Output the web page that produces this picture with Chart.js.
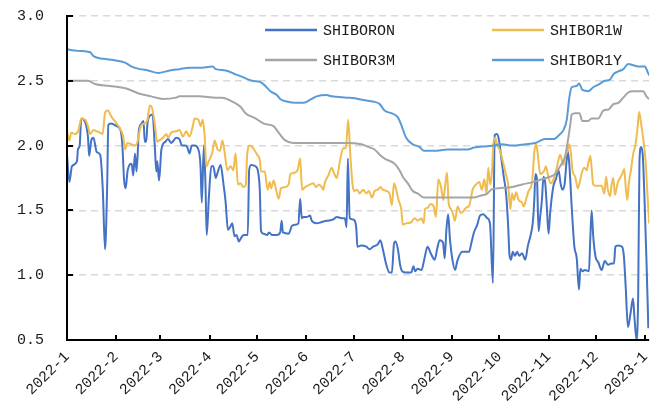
<!DOCTYPE html>
<html>
<head>
<meta charset="utf-8">
<script src="https://cdn.jsdelivr.net/npm/chart.js@4.4.1/dist/chart.umd.min.js"></script>
<style>
  html, body { margin: 0; padding: 0; background: #fff; }
  #wrap { width: 666px; height: 408px; }
</style>
</head>
<body>
<div id="wrap"><canvas id="shiborChart" width="666" height="408"></canvas></div>
<script>
// x = days since 2022-01-01
const monthDays = [0, 31, 59, 90, 120, 151, 181, 212, 243, 273, 304, 334, 365];
const monthLabels = ['2022-1', '2022-2', '2022-3', '2022-4', '2022-5', '2022-6', '2022-7',
  '2022-8', '2022-9', '2022-10', '2022-11', '2022-12', '2023-1'];

const onDays = [0, 1.5, 3.1, 6.3, 6.9, 8, 9, 11.5, 13.2, 14, 15.3, 16.7, 18.8, 20.9, 22.6, 24, 25.3, 26.1, 27.8, 31.4,
  34, 35.1, 36, 37, 38.3, 40.8, 41.8, 42.9, 43.9, 45.4, 47, 48.3, 49.1, 50, 50.8, 52.3, 54, 55.4, 56.4, 57,
  58.1, 59.6, 62.1, 63.8, 65.8, 69, 71, 72.5, 74.6, 75.9, 77.3, 78.8, 80.5, 82.6, 84.3, 85.1, 86.4, 87.4, 88.2, 89.6,
  91.1, 92.4, 93.9, 95, 97, 98.7, 100.1, 101.6, 102.9, 104.3, 105.8, 107, 108.5, 110, 111.6, 114.1, 115, 116.2, 119, 120.6,
  121.7, 122.5, 124.2, 126.3, 127.5, 129.4, 132.5, 134.6, 135.5, 136.3, 139.9, 142, 144, 146.1, 147.2, 148.2, 149.3, 151.4, 153.4, 154.5,
  157.6, 160.8, 163.9, 168.1, 170.2, 173.4, 175.4, 176.5, 177.3, 178.5, 180.6, 181.7, 182.7, 183.3, 185.8, 189, 191, 193.2, 196.3, 197.8,
  199.4, 201.6, 203.6, 205.1, 206.4, 207.4, 208.9, 210.3, 211.6, 214.1, 217.3, 218.7, 219.8, 221.3, 223.8, 225.5, 227.6, 229.6, 232.1, 233.8,
  235.3, 237.4, 238.4, 239.5, 240.6, 241.8, 243.3, 245, 246.4, 249.6, 253.8, 255.3, 256.9, 259, 260.7, 262.8, 265.3, 267, 268.9, 270,
  271.3, 272.6, 274.3, 275.7, 277.2, 278.5, 279.3, 280.3, 281.4, 282.8, 284.1, 285.6, 287.2, 289.3, 291, 292.5, 294, 295, 295.7, 296.7,
  297.7, 298.7, 299.8, 300.8, 301.9, 302.9, 304, 305, 307.1, 308.6, 310.3, 311.7, 312.8, 314.1, 315.3, 316.1, 317.2, 318.6, 320.3, 321.8,
  323.2, 324.1, 325.4, 327, 329.5, 330.3, 331.2, 332.2, 333.7, 335.4, 337.5, 339.5, 341.6, 343.6, 345.3, 346.2, 347.9, 350.4, 351.6, 352.7,
  354.1, 355.8, 357.3, 358.3, 359.6, 360.6, 361.4, 362.5, 363.5, 364.6, 365.8, 367];
const onRate = [1.93, 1.72, 1.84, 1.88, 1.97, 2.0, 2.21, 2.18, 2.07, 1.92, 2.04, 2.06, 1.95, 1.93, 1.66, 1.20, 1.66, 2.16, 2.17, 2.15,
  2.11, 1.97, 1.74, 1.67, 1.81, 1.86, 1.77, 1.94, 1.80, 2.12, 2.17, 2.19, 2.03, 2.03, 2.17, 2.23, 2.24, 2.0, 1.80, 1.88,
  1.73, 1.97, 2.03, 2.05, 2.02, 2.06, 2.05, 2.0, 2.0, 1.99, 1.94, 2.0, 2.0, 1.98, 1.84, 1.56, 2.0, 1.71, 1.31, 1.61,
  1.84, 1.84, 1.75, 1.79, 1.85, 1.71, 1.57, 1.35, 1.37, 1.40, 1.30, 1.31, 1.26, 1.29, 1.31, 1.31, 1.81, 1.85, 1.84, 1.80,
  1.66, 1.34, 1.32, 1.31, 1.33, 1.31, 1.31, 1.33, 1.42, 1.33, 1.32, 1.38, 1.39, 1.40, 1.59, 1.44, 1.45, 1.45, 1.46, 1.42,
  1.40, 1.41, 1.42, 1.43, 1.45, 1.44, 1.44, 1.37, 1.90, 1.44, 1.43, 1.42, 1.35, 1.22, 1.23, 1.22, 1.20, 1.22, 1.24, 1.27,
  1.20, 1.08, 1.02, 1.02, 1.24, 1.26, 1.20, 1.08, 1.03, 1.02, 1.02, 1.07, 1.03, 1.05, 1.04, 1.12, 1.22, 1.17, 1.12, 1.21,
  1.27, 1.25, 1.13, 1.35, 1.47, 1.27, 1.12, 1.04, 1.11, 1.18, 1.18, 1.25, 1.33, 1.39, 1.46, 1.47, 1.44, 1.40, 0.94, 2.08,
  2.09, 2.05, 1.89, 1.76, 1.63, 1.38, 1.16, 1.12, 1.18, 1.15, 1.18, 1.15, 1.17, 1.12, 1.23, 1.30, 1.40, 1.58, 1.78, 1.74,
  1.34, 1.45, 1.58, 1.76, 1.71, 1.53, 1.32, 1.48, 1.69, 1.74, 1.81, 1.70, 1.66, 1.70, 1.87, 1.96, 1.84, 1.53, 1.22, 1.13,
  0.89, 1.05, 1.03, 1.04, 1.03, 1.27, 1.50, 1.30, 1.14, 1.10, 1.04, 1.11, 1.08, 1.09, 1.09, 1.22, 1.23, 1.22, 1.14, 0.91,
  0.60, 0.71, 0.82, 0.66, 0.50, 0.86, 1.89, 1.99, 1.92, 1.58, 1.12, 0.59];

const wDays = [0, 1.5, 2.7, 5.2, 7.3, 9, 11.5, 13.2, 14.6, 16.7, 18.8, 20.9, 22.5, 24, 25.7, 28.2, 31.4, 34, 35.5, 36.6,
  38.1, 40.8, 42.9, 44.5, 46.6, 48.7, 50.8, 52.3, 53.7, 55.4, 56.9, 58.1, 60.6, 62.7, 63.8, 65.8, 69, 71, 73.2, 75.3,
  77.3, 79.4, 80.5, 83, 84.3, 85.7, 86.8, 88, 89.5, 91.8, 93.2, 95, 96.6, 98.1, 99.5, 101.2, 103.3, 105, 106.4, 107.9,
  109.5, 111.2, 112.9, 113.7, 115.4, 117.5, 120, 121.7, 122.5, 124.8, 126.7, 127.9, 128.9, 130.4, 132, 133.6, 135.1, 137.8, 139.9, 141,
  143.1, 145.5, 147.2, 148.4, 150.3, 153.4, 155.6, 157.2, 159, 160.8, 161.8, 162.9, 165, 167.1, 168.5, 170.2, 172.3, 174.4, 176.1, 177.5,
  179, 180.6, 181.7, 183.2, 184.8, 186.9, 189, 190.5, 192.5, 194.2, 196.3, 197.9, 199.4, 201.6, 203.6, 205.1, 206.4, 207.8, 209.3, 211,
  212, 214.1, 217.3, 219.4, 221.5, 223.6, 225.2, 226, 227.7, 229.4, 231.5, 232.9, 234.4, 236.1, 237.6, 238.6, 239.9, 240.9, 242.4, 243.5,
  244.9, 246.6, 248.7, 251.9, 254, 256.1, 258.2, 260.3, 261.9, 263.4, 264.9, 265.9, 267.2, 268.2, 269.2, 270.3, 271.7, 273.1, 274.7, 276.8,
  278.5, 279.9, 280.9, 282.2, 283.5, 285.1, 287.2, 288.3, 289.7, 291.4, 293.5, 295.2, 296.2, 297.3, 298.7, 300.2, 301.4, 302.3, 304, 305.4,
  307.1, 308.8, 310.3, 311.3, 312.4, 313.4, 314.9, 316, 317, 318, 319.1, 320.8, 322.5, 323.9, 325, 326.6, 328.1, 329.2, 330.4, 331.3,
  332.2, 333.7, 335.4, 337.5, 339.2, 340.3, 341.3, 342.8, 343.8, 344.9, 345.9, 347.6, 349.1, 350.5, 351.8, 352.6, 353.7, 354.7, 356, 357.5,
  358.9, 360.2, 361.2, 362.3, 363.7, 365.2, 366.4, 367.5];
const wRate = [2.11, 2.04, 2.10, 2.09, 2.12, 2.21, 2.20, 2.15, 2.09, 2.12, 2.11, 2.10, 2.09, 2.25, 2.27, 2.22, 2.17, 2.12, 2.07, 1.97,
  2.02, 2.01, 2.0, 2.03, 2.15, 2.17, 2.20, 2.31, 2.29, 2.17, 2.03, 2.04, 2.06, 2.09, 2.06, 2.10, 2.11, 2.12, 2.07, 2.11,
  2.07, 2.15, 2.21, 2.20, 2.15, 2.20, 2.09, 1.84, 1.88, 1.95, 2.04, 1.97, 1.96, 2.04, 1.95, 1.81, 1.84, 1.81, 1.94, 1.70,
  1.71, 1.68, 1.70, 1.92, 2.0, 1.98, 1.93, 1.89, 1.80, 1.80, 1.66, 1.72, 1.67, 1.73, 1.66, 1.59, 1.67, 1.68, 1.70, 1.78,
  1.79, 1.81, 1.90, 1.66, 1.68, 1.70, 1.71, 1.68, 1.70, 1.68, 1.66, 1.72, 1.77, 1.83, 1.79, 1.75, 1.88, 1.98, 1.98, 2.20,
  1.90, 1.67, 1.65, 1.66, 1.63, 1.66, 1.63, 1.65, 1.60, 1.65, 1.66, 1.68, 1.66, 1.65, 1.63, 1.54, 1.71, 1.66, 1.58, 1.51,
  1.39, 1.40, 1.41, 1.44, 1.42, 1.44, 1.40, 1.51, 1.52, 1.55, 1.53, 1.45, 1.74, 1.68, 1.58, 1.68, 1.79, 1.56, 1.51, 1.48,
  1.42, 1.53, 1.48, 1.52, 1.54, 1.66, 1.70, 1.72, 1.66, 1.74, 1.63, 1.83, 1.70, 1.79, 2.02, 2.06, 2.0, 1.97, 1.90, 1.79,
  1.70, 1.51, 1.63, 1.58, 1.64, 1.58, 1.56, 1.53, 1.58, 1.65, 1.71, 1.97, 2.01, 1.92, 1.78, 1.79, 1.81, 1.84, 1.75, 1.71,
  1.74, 1.81, 1.89, 1.93, 1.89, 1.85, 1.93, 1.96, 2.01, 1.96, 1.81, 1.76, 1.67, 1.73, 1.79, 1.83, 1.81, 1.87, 1.92, 1.81,
  1.70, 1.69, 1.69, 1.69, 1.63, 1.76, 1.67, 1.61, 1.70, 1.75, 1.62, 1.71, 1.75, 1.78, 1.82, 1.70, 1.58, 1.71, 1.81, 1.94,
  2.01, 2.14, 2.26, 2.18, 2.06, 1.89, 1.63, 1.40];

const mDays = [0, 13.4, 17.6, 27, 37.4, 45.8, 53.1, 60.4, 68.8, 70.9, 83.4, 93.9, 98, 104.3, 109.5, 112.7, 119, 124.2, 130.4, 133.6,
  137.8, 143, 156.6, 175.4, 185.8, 190, 194.2, 197.4, 200.5, 206.8, 209.9, 212, 215.1, 218.3, 221.5, 225.2, 240.3, 257, 260.1, 265.3,
  267.8, 271.6, 281, 287.2, 294.6, 299.8, 305, 308.1, 311.3, 314.5, 316.1, 317.6, 318.6, 320.8, 323.5, 325.3, 329, 331.2, 335.4, 338.6,
  342.1, 344.9, 348, 351.2, 354.3, 357.5, 363.7, 365.8, 367.5];
const mRate = [2.50, 2.50, 2.475, 2.46, 2.44, 2.40, 2.38, 2.36, 2.37, 2.38, 2.38, 2.37, 2.37, 2.34, 2.30, 2.25, 2.21, 2.17, 2.15, 2.10,
  2.04, 2.02, 2.02, 2.02, 2.01, 1.99, 1.97, 1.93, 1.90, 1.86, 1.81, 1.76, 1.71, 1.65, 1.63, 1.60, 1.60, 1.60, 1.61, 1.63,
  1.66, 1.67, 1.68, 1.70, 1.72, 1.74, 1.76, 1.78, 1.84, 1.92, 2.03, 2.15, 2.24, 2.25, 2.25, 2.19, 2.19, 2.21, 2.21, 2.27,
  2.28, 2.32, 2.33, 2.37, 2.41, 2.42, 2.42, 2.38, 2.36];

const yDays = [0, 3.1, 8.4, 14.6, 16.7, 22.9, 29.2, 36.6, 40.8, 46, 51.2, 57.5, 64.8, 71.1, 77.3, 83.6, 92, 93.9, 100.1, 106.4,
  110.6, 116.8, 122.1, 125.2, 128.4, 132.5, 134.6, 138.8, 144, 149.3, 154.5, 157.6, 163.9, 167, 176.4, 181.7, 188, 193.2, 197.4, 200.5,
  204.7, 208.8, 211, 214.1, 218.3, 222.5, 225.2, 231.9, 240.3, 252.8, 257, 265.3, 269.5, 274.7, 281, 289.3, 295.6, 301.9, 307.1, 311.3,
  313.4, 315.5, 317, 318.6, 321.8, 323.2, 325.4, 329.2, 332.2, 335.4, 339.5, 342.8, 344.9, 347.6, 351.2, 354.3, 357.5, 360.6, 364.8, 366.8,
  367.8];
const yRate = [2.745, 2.735, 2.73, 2.72, 2.69, 2.67, 2.66, 2.64, 2.61, 2.59, 2.58, 2.56, 2.58, 2.59, 2.60, 2.60, 2.61, 2.59, 2.58, 2.55,
  2.53, 2.50, 2.49, 2.46, 2.42, 2.39, 2.36, 2.34, 2.33, 2.33, 2.36, 2.38, 2.39, 2.38, 2.37, 2.365, 2.35, 2.34, 2.32, 2.27,
  2.25, 2.22, 2.16, 2.06, 2.01, 1.99, 1.96, 1.96, 1.97, 1.97, 1.985, 1.995, 2.0, 2.01, 2.0, 2.01, 2.02, 2.05, 2.05, 2.09,
  2.12, 2.20, 2.36, 2.45, 2.46, 2.48, 2.43, 2.42, 2.45, 2.47, 2.50, 2.51, 2.55, 2.57, 2.59, 2.63, 2.62, 2.61, 2.61, 2.56,
  2.54];

const seriesNames = ['SHIBORON', 'SHIBOR1W', 'SHIBOR3M', 'SHIBOR1Y'];
const seriesColors = ['#4472C4', '#F0BC4F', '#A5A5A5', '#5B9BD5'];

function pts(days, vals) {
  return days.map((d, i) => ({ x: d, y: vals[i] }));
}

const FONT = '"Liberation Mono", "DejaVu Sans Mono", monospace';

const frame = {
  id: 'frame',
  afterDatasetsDraw(chart) {
    const { ctx, chartArea: a, scales } = chart;
    const x = scales.x, y = scales.y;
    ctx.save();
    ctx.strokeStyle = '#000';
    ctx.lineWidth = 2;
    ctx.beginPath();
    ctx.moveTo(a.left, a.top - 1);
    ctx.lineTo(a.left, a.bottom);
    ctx.lineTo(a.right, a.bottom);
    y.ticks.forEach(t => {
      if (t.value <= 0.5) return;
      const py = Math.round(y.getPixelForValue(t.value));
      ctx.moveTo(a.left, py);
      ctx.lineTo(a.left + 6, py);
    });
    monthDays.forEach(d => {
      if (d === 0) return;
      const px = Math.round(x.getPixelForValue(d));
      ctx.moveTo(px, a.bottom);
      ctx.lineTo(px, a.bottom - 5);
    });
    ctx.stroke();

    // legend, two columns inside the plot
    const cols = [265, 492];
    const rows = [30, 60];
    ctx.font = '15px ' + FONT;
    ctx.textBaseline = 'middle';
    ctx.textAlign = 'left';
    chart.data.datasets.forEach((ds, i) => {
      const lx = cols[i % 2], ly = rows[Math.floor(i / 2)];
      ctx.strokeStyle = ds.borderColor;
      ctx.lineWidth = 2.5;
      ctx.beginPath();
      ctx.moveTo(lx, ly);
      ctx.lineTo(lx + 52, ly);
      ctx.stroke();
      ctx.fillStyle = '#1a1a1a';
      ctx.fillText(ds.label, lx + 58, ly + 1);
    });
    ctx.restore();
  }
};

const ctx = document.getElementById('shiborChart').getContext('2d');
const allDays = [onDays, wDays, mDays, yDays];
const allRates = [onRate, wRate, mRate, yRate];

new Chart(ctx, {
  type: 'line',
  data: {
    datasets: seriesNames.map((name, i) => ({
      label: name,
      data: pts(allDays[i], allRates[i]),
      borderColor: seriesColors[i],
      backgroundColor: seriesColors[i],
      borderWidth: 2,
      pointRadius: 0,
      tension: 0.3,
      cubicInterpolationMode: 'monotone',
      order: 4 - i
    }))
  },
  options: {
    responsive: false,
    animation: false,
    layout: { padding: { top: 16, right: 13, left: 17, bottom: 0 } },
    plugins: { legend: { display: false }, tooltip: { enabled: false } },
    scales: {
      x: {
        type: 'linear',
        min: 0,
        max: 367.5,
        afterBuildTicks: (scale) => { scale.ticks = monthDays.map(v => ({ value: v })); },
        afterFit: (scale) => { scale.height = 68; },
        grid: { display: false, drawTicks: false },
        border: { display: false },
        ticks: {
          autoSkip: false,
          minRotation: 45,
          maxRotation: 45,
          padding: 8,
          color: '#1a1a1a',
          font: { family: FONT, size: 15 },
          callback: (v) => monthLabels[monthDays.indexOf(v)]
        }
      },
      y: {
        min: 0.5,
        max: 3.0,
        afterFit: (scale) => { scale.width = 50; },
        grid: { color: '#d9d9d9', lineWidth: 1.5, drawTicks: false },
        border: { display: false, dash: [7, 5] },
        ticks: {
          stepSize: 0.5,
          padding: 2,
          crossAlign: 'far',
          color: '#1a1a1a',
          font: { family: FONT, size: 15 },
          callback: (v) => v.toFixed(1)
        }
      }
    }
  },
  plugins: [frame]
});
</script>
</body>
</html>
